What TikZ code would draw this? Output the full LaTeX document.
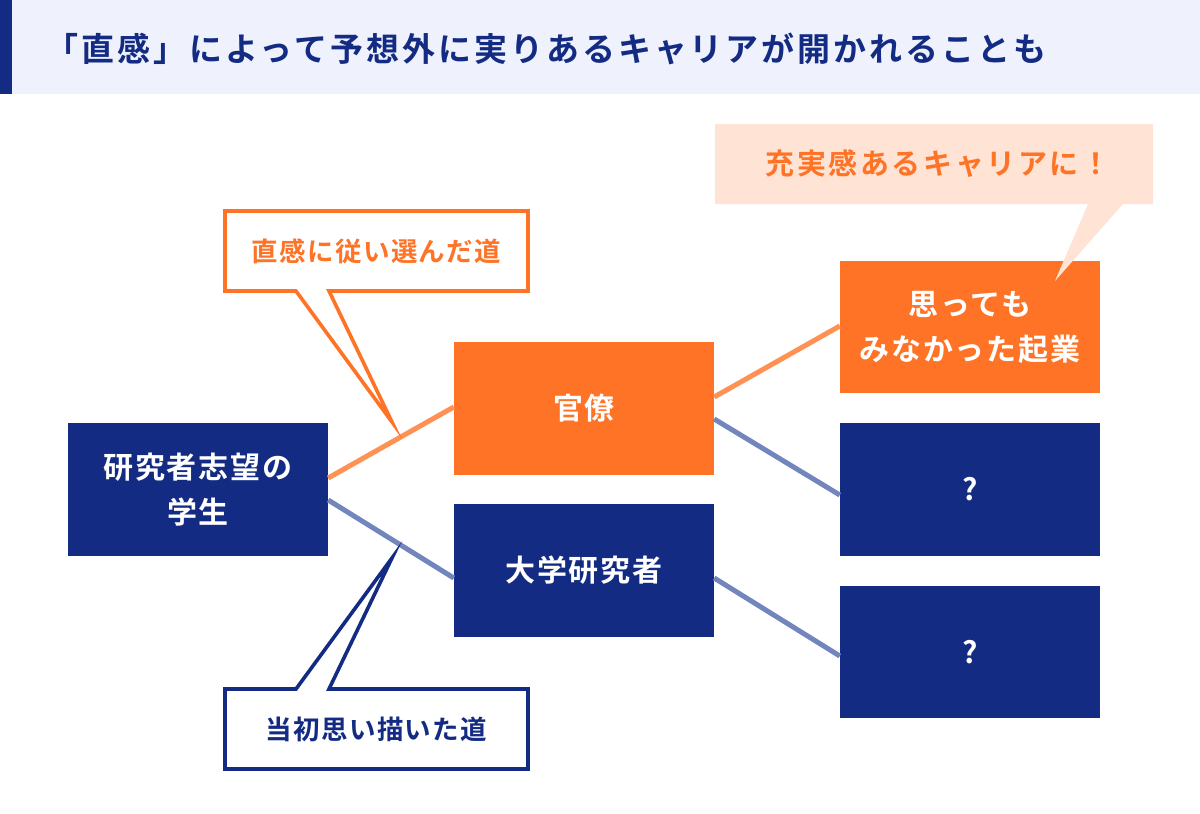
\documentclass[tikz,border=0pt]{standalone}
\usepackage{fontspec}
\setmainfont{Noto Sans CJK JP}[BoldFont={Noto Sans CJK JP Bold}]
\newfontfamily\titlefont{Noto Sans CJK JP}[BoldFont={Noto Sans CJK JP Bold},LetterSpace=9]
\newfontfamily\boxfont{Noto Sans CJK JP}[BoldFont={Noto Sans CJK JP Bold},LetterSpace=6.5]
\newfontfamily\callfont{Noto Sans CJK JP}[BoldFont={Noto Sans CJK JP Bold},LetterSpace=5]
\newfontfamily\labelfont{Noto Sans CJK JP}[BoldFont={Noto Sans CJK JP Bold},LetterSpace=9]
\definecolor{navy}{HTML}{132B83}
\definecolor{orange}{HTML}{FF7326}
\definecolor{lightbar}{HTML}{EFF2FC}
\definecolor{peach}{HTML}{FFE3D4}
\definecolor{orangeline}{HTML}{FF9153}
\definecolor{navyline}{HTML}{7285BD}
\tikzset{
  navybox/.style={fill=navy,text=white,minimum width=260,minimum height=132.5,inner sep=0,align=center,font=\boxfont\bfseries\fontsize{30}{45}\selectfont},
  orangebox/.style={navybox,fill=orange},
  orangelink/.style={line width=5,orangeline},
  navylink/.style={line width=5,navyline},
  calltext/.style={inner sep=0,font=\callfont\bfseries\fontsize{26.5}{30}\selectfont}
}
\begin{document}
\begin{tikzpicture}[x=1pt,y=-1pt]
\useasboundingbox (0,0) rectangle (1200,814);
\fill[white] (0,0) rectangle (1200,814);
\fill[lightbar] (0,0) rectangle (1200,94);
\fill[navy] (0,0) rectangle (12,94);
\node[anchor=west,inner sep=0,text=navy,font=\titlefont\bfseries\fontsize{33}{36}\selectfont] (title) at (45,49) {「直感」によって予想外に実りあるキャリアが開かれることも};
\node[navybox] (student) at (198,489.5) {\raisebox{-1pt}{研究者志望の}\\\raisebox{-1pt}{学生}};
\node[orangebox] (kanryo) at (584,408.5) {官僚};
\node[navybox] (kenkyu) at (584,570.5) {大学研究者};
\node[orangebox] (kigyo) at (970,327) {思っても\\みなかった起業};
\node[navybox] (q1) at (970,489.5) {\raisebox{-2pt}{?}};
\node[navybox] (q2) at (970,652) {\raisebox{-2pt}{?}};
\draw[orangelink] (student.east |- 0,478) -- (kanryo.west |- 0,407);
\draw[navylink] (student.east |- 0,500) -- (kenkyu.west |- 0,578);
\draw[orangelink] (kanryo.east |- 0,397) -- (kigyo.west |- 0,326);
\draw[navylink] (kanryo.east |- 0,419) -- (q1.west |- 0,495);
\draw[navylink] (kenkyu.east |- 0,578) -- (q2.west |- 0,656);
% upper callout
\coordinate (tipo) at (392,422);
\draw[orange,line width=3.6,fill=white,miter limit=20] (225,211) -- (528,211) -- (528,291) -- (329,291) -- (tipo) -- (296,291) -- (225,291) -- cycle;
\node[calltext,text=orange] (chokkan) at (376.5,251) {直感に従い選んだ道};
% lower callout
\coordinate (tipn) at (392,558);
\draw[navy,line width=3.6,fill=white,miter limit=20] (225,689) -- (296,689) -- (tipn) -- (329,689) -- (528,689) -- (528,769) -- (225,769) -- cycle;
\node[calltext,text=navy] (tosho) at (376.5,729) {当初思い描いた道};
% peach callout
\fill[peach] (715,124) -- (1153,124) -- (1153,204) -- (1123,204) -- (1055,281) -- (1088,204) -- (715,204) -- cycle;
\node[inner sep=0,text=orange,font=\labelfont\bfseries\fontsize{29}{30}\selectfont] (juujitsu) at (938,164) {充実感あるキャリアに！};
\end{tikzpicture}
\end{document}
